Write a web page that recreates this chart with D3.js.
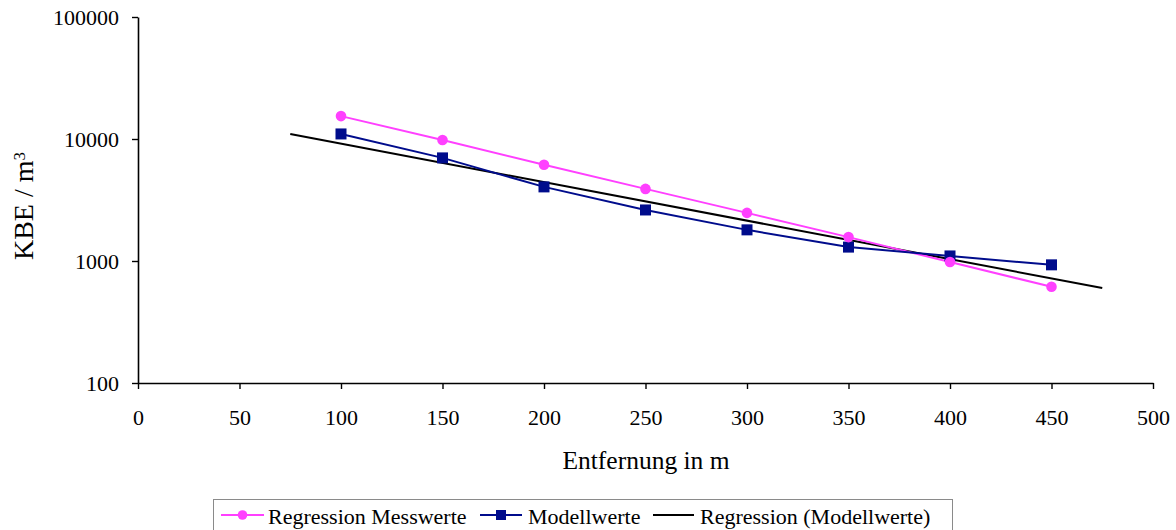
<!DOCTYPE html>
<html>
<head>
<meta charset="utf-8">
<script src="https://cdn.jsdelivr.net/npm/d3@7"></script>
<style>
  html, body { margin: 0; padding: 0; background: #fff; }
  svg { display: block; }
  svg text { font-family: "Liberation Serif", "Times New Roman", Times, "DejaVu Serif", serif; fill: #000; }
</style>
</head>
<body>
<svg id="chart" width="1176" height="530"></svg>
<script>
// Distance (m) at which samples were taken
const distances = [100, 150, 200, 250, 300, 350, 400, 450];
// Regression of measured values (KBE / m³)
const messwerte = [15400, 9800, 6150, 3900, 2480, 1570, 980, 615];
// Model values (KBE / m³)
const modellwerte = [11000, 7000, 4050, 2620, 1800, 1300, 1100, 930];
// Regression line of the model values, start and end points
const regX = [75, 475];
const regY = [11000, 600];

const xTicks = [0, 50, 100, 150, 200, 250, 300, 350, 400, 450, 500];
const yTicks = [100, 1000, 10000, 100000];
const legendLabels = ["Regression Messwerte", "Modellwerte", "Regression (Modellwerte)"];

const pink = "#ff40ff";
const navy = "#000c8c";
const serif = '"Liberation Serif", "Times New Roman", Times, "DejaVu Serif", serif';

const svg = d3.select("#chart");

const x = d3.scaleLinear().domain([0, 500]).range([138, 1153]);
const y = d3.scaleLog().domain([100, 100000]).range([383, 17]);

// Axes
const xAxis = svg.append("g")
  .attr("transform", `translate(0,${y(100)})`)
  .call(d3.axisBottom(x).tickValues(xTicks).tickSize(6).tickPadding(20).tickSizeOuter(0));
const yAxis = svg.append("g")
  .attr("transform", `translate(${x(0)},0)`)
  .call(d3.axisLeft(y).tickValues(yTicks).tickFormat(d3.format("d")).tickSize(6).tickPadding(13).tickSizeOuter(0));

[xAxis, yAxis].forEach(g => {
  g.attr("font-family", serif).attr("font-size", 22);
  g.select(".domain").attr("stroke", "#000").attr("stroke-width", 1.6);
  g.selectAll(".tick line").attr("stroke", "#000").attr("stroke-width", 1.4);
  g.selectAll(".tick text").attr("fill", "#000");
});

// Axis titles
svg.append("text")
  .attr("x", 646).attr("y", 469)
  .attr("text-anchor", "middle")
  .attr("font-size", 25.5)
  .text("Entfernung in m");

const yTitle = svg.append("text")
  .attr("transform", "translate(33,206) rotate(-90)")
  .attr("text-anchor", "middle")
  .attr("font-size", 28);
yTitle.append("tspan").text("KBE / m");
yTitle.append("tspan").attr("dy", "-0.5em").attr("font-size", 17).text("3");

const line = d3.line().x(d => x(d[0])).y(d => y(d[1]));

// Regression line (model values)
svg.append("path")
  .datum(regX.map((d, i) => [d, regY[i]]))
  .attr("fill", "none")
  .attr("stroke", "#000")
  .attr("stroke-width", 2)
  .attr("d", line);

const pinkData = distances.map((d, i) => [d, messwerte[i]]);
const navyData = distances.map((d, i) => [d, modellwerte[i]]);

// Measured regression series
svg.append("path")
  .datum(pinkData)
  .attr("fill", "none").attr("stroke", pink).attr("stroke-width", 2)
  .attr("d", line);

// Model series
svg.append("path")
  .datum(navyData)
  .attr("fill", "none").attr("stroke", navy).attr("stroke-width", 2)
  .attr("d", line);

svg.append("g").selectAll("rect")
  .data(navyData).join("rect")
  .attr("x", d => x(d[0]) - 5.5).attr("y", d => y(d[1]) - 5.5)
  .attr("width", 11).attr("height", 11)
  .attr("fill", navy);

svg.append("g").selectAll("circle")
  .data(pinkData).join("circle")
  .attr("cx", d => x(d[0])).attr("cy", d => y(d[1]))
  .attr("r", 5.3)
  .attr("fill", pink);

// Legend
const legend = svg.append("g");
legend.append("rect")
  .attr("x", 213.5).attr("y", 499.5).attr("width", 739).attr("height", 40)
  .attr("fill", "#fff").attr("stroke", "#8a8a8a").attr("stroke-width", 1);

const ly = 515;
const items = [
  { sx: 221, ex: 264, tx: 268, color: pink, marker: "circle" },
  { sx: 480, ex: 522, tx: 528, color: navy, marker: "square" },
  { sx: 653, ex: 694, tx: 700, color: "#000", marker: null }
];
items.forEach((it, i) => {
  legend.append("line")
    .attr("x1", it.sx).attr("x2", it.ex).attr("y1", ly).attr("y2", ly)
    .attr("stroke", it.color).attr("stroke-width", 2);
  const mx = (it.sx + it.ex) / 2;
  if (it.marker === "circle") {
    legend.append("circle").attr("cx", mx).attr("cy", ly).attr("r", 4.8).attr("fill", it.color);
  } else if (it.marker === "square") {
    legend.append("rect").attr("x", mx - 5).attr("y", ly - 5).attr("width", 10).attr("height", 10).attr("fill", it.color);
  }
  legend.append("text")
    .attr("x", it.tx).attr("y", 524)
    .attr("font-size", 22)
    .text(legendLabels[i]);
});
</script>
</body>
</html>
